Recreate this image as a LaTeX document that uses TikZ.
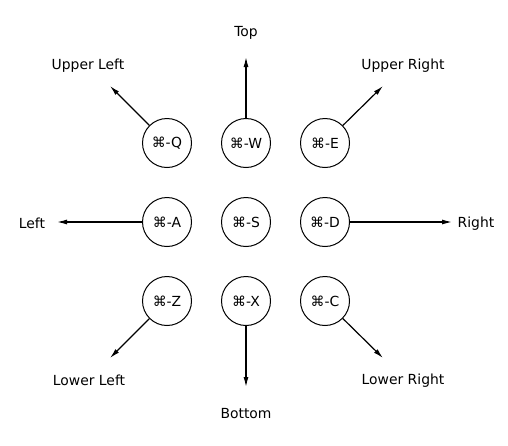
\documentclass[tikz,border=0pt]{standalone}
\usepackage{fontspec}
\setmainfont{DejaVu Sans}
\usetikzlibrary{arrows.meta}
\begin{document}
\begin{tikzpicture}[
   x=1pt, y=-1pt,
   every node/.style={font=\fontsize{13.9}{16}\selectfont},
   key/.style={draw, circle, line width=1pt, minimum size=49pt, inner sep=0pt},
   lbl/.style={yshift=-1.5pt},
   dir/.style={line width=1.2pt, -{Latex[length=10pt,width=5pt]}}]
\useasboundingbox (0,0) rectangle (508,445);

\node[key] (q) at (167,143) {⌘-Q};
\node[key] (w) at (246,143) {⌘-W};
\node[key] (e) at (325,143) {⌘-E};
\node[key] (a) at (167,222) {⌘-A};
\node[key] (s) at (246,222) {⌘-S};
\node[key] (d) at (325,222) {⌘-D};
\node[key] (z) at (167,301) {⌘-Z};
\node[key] (x) at (246,301) {⌘-X};
\node[key] (c) at (325,301) {⌘-C};

\coordinate (ul) at (110,86);
\coordinate (up) at (246,57);
\coordinate (ur) at (383,86);
\coordinate (lt) at (57,222);
\coordinate (rt) at (452,222);
\coordinate (ll) at (110,358);
\coordinate (dn) at (246,387);
\coordinate (lr) at (383,358);

\draw[dir] (q) -- (ul);
\draw[dir] (w) -- (up);
\draw[dir] (e) -- (ur);
\draw[dir] (a) -- (lt);
\draw[dir] (d) -- (rt);
\draw[dir] (z) -- (ll);
\draw[dir] (x) -- (dn);
\draw[dir] (c) -- (lr);

\node[lbl] (tul) at (88,64) {Upper Left};
\node[lbl] (tup) at (246,31) {Top};
\node[lbl] (tur) at (403,64) {Upper Right};
\node[lbl] (tlt) at (32,222) {Left};
\node[lbl] (trt) at (476,222) {Right};
\node[lbl] (tll) at (89,379) {Lower Left};
\node[lbl] (tdn) at (246,412) {Bottom};
\node[lbl] (tlr) at (403,379) {Lower Right};

\end{tikzpicture}
\end{document}
